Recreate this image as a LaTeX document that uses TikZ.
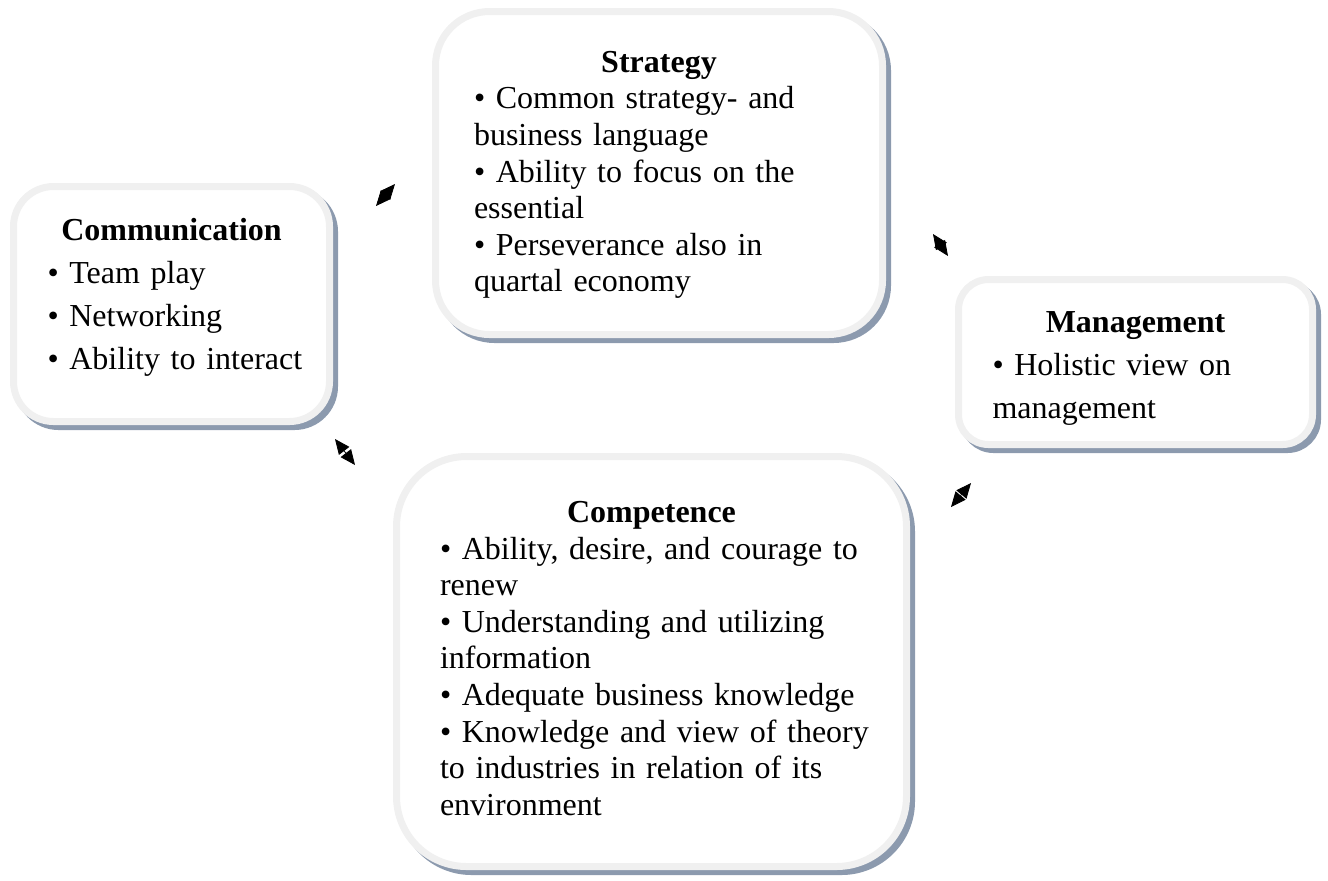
\documentclass[tikz,border=0pt]{standalone}
\usepackage{fontspec}
\setmainfont{Liberation Serif}
\usetikzlibrary{arrows.meta}
\definecolor{rimgrey}{RGB}{240,240,240}
\definecolor{shadeblue}{RGB}{140,154,174}
\begin{document}
\begin{tikzpicture}[x=0.5pt,y=-0.5pt,
	card/.style={draw=rimgrey, fill=white, line width=3.5pt, inner sep=0pt,
		preaction={draw=shadeblue, fill=shadeblue, line width=3.5pt,
			transform canvas={shift={(2.5pt,-2.5pt)}}}},
	widelines/.style={inner sep=0pt, font={\fontsize{16}{21.5}\selectfont\setlength\parindent{0pt}\spaceskip=2.7pt plus 1pt minus .5pt}},
	tightlines/.style={inner sep=0pt, font={\fontsize{16}{18.3}\selectfont\setlength\parindent{0pt}\spaceskip=2.7pt plus 1pt minus .5pt}},
	link/.style={{Triangle[length=7.5pt,width=6.5pt]}-{Triangle[length=7.5pt,width=6.5pt]}, line width=0.4pt}]
			\useasboundingbox (0,0) rectangle (1328,880);
			\node[card, rounded corners=20pt, minimum width=158pt, minimum height=117.5pt] (comm) at (171.5,304) {};
			\node[card, rounded corners=27pt, minimum width=223.5pt, minimum height=161.5pt] (strat) at (659,173) {};
			\node[card, rounded corners=15pt, minimum width=177pt, minimum height=82.5pt] (mgmt) at (1135.5,362) {};
			\node[card, rounded corners=35pt, minimum width=255pt, minimum height=205pt] (comp) at (651.5,661.5) {};
			\node[widelines, text width=124pt, yshift=3.5pt] (commtext) at (comm.center)
				{\centering\textbf{Communication}\par\raggedright
				\mbox{• Team play}\par
				\mbox{• Networking}\par
				\mbox{• Ability to interact}\par};
			\node[tightlines, text width=185pt, yshift=-1pt] (strattext) at (strat.center)
				{\centering\textbf{Strategy}\par\raggedright
				\mbox{• Common strategy- and}\par
				\mbox{business language}\par
				\mbox{• Ability to focus on the}\par
				\mbox{essential}\par
				\mbox{• Perseverance also in}\par
				\mbox{quartal economy}\par};
			\node[widelines, text width=143pt, yshift=-3pt] (mgmttext) at (mgmt.center)
				{\centering\textbf{Management}\par\raggedright
				\mbox{• Holistic view on}\par
				\mbox{management}\par};
			\node[tightlines, text width=211.5pt, yshift=1.5pt] (comptext) at (comp.center)
				{\centering\textbf{Competence}\par\raggedright
				\mbox{• Ability, desire, and courage to}\par
				\mbox{renew}\par
				\mbox{• Understanding and utilizing}\par
				\mbox{information}\par
				\mbox{• Adequate business knowledge}\par
				\mbox{• Knowledge and view of theory}\par
				\mbox{to industries in relation of its}\par
				\mbox{environment}\par};
			\coordinate (cs1) at (376,206);
			\coordinate (cs2) at (395,184);
			\coordinate (sm1) at (933,234);
			\coordinate (sm2) at (948,256);
			\coordinate (cc1) at (335,439);
			\coordinate (cc2) at (355,465);
			\coordinate (pm1) at (951,507);
			\coordinate (pm2) at (971,483);
			\draw[link] (cs1) -- (cs2);
			\draw[link] (sm1) -- (sm2);
			\draw[link] (cc1) -- (cc2);
			\draw[link] (pm1) -- (pm2);
		\end{tikzpicture}
\end{document}
